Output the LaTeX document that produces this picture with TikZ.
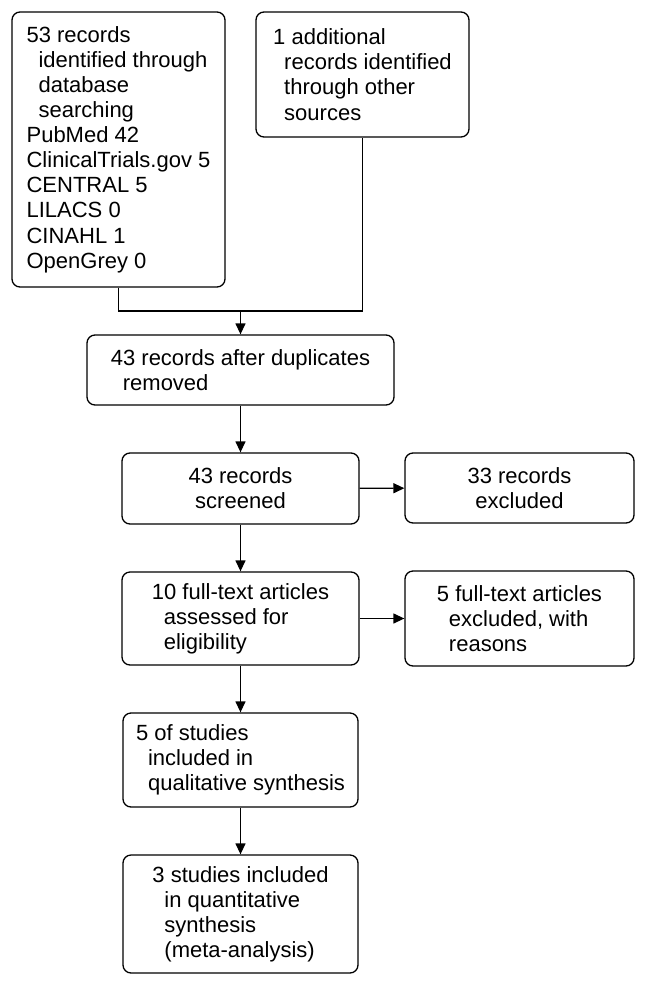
\documentclass[tikz,border=0pt]{standalone}
\usepackage{fontspec}
\setmainfont{Liberation Sans}
\usetikzlibrary{arrows.meta}

\begin{document}
\begin{tikzpicture}[
  x=1pt, y=-1pt,
  font=\fontsize{22}{25.1}\selectfont,
  stage/.style={draw, line width=1.3pt, rounded corners=8pt, align=left, inner sep=0pt},
  flow/.style={line width=1.3pt, -{Triangle[length=11pt, width=10pt]}}]
    \useasboundingbox (0,0) rectangle (647,986);
    % Identification: database search and other sources
    \node[stage, minimum width=213pt, minimum height=275pt] (database) at (118.5,149.5)
      {53 records\\\hspace*{12pt}identified through\\\hspace*{12pt}database\\\hspace*{12pt}searching\\
       PubMed 42\\ClinicalTrials.gov 5\\CENTRAL 5\\LILACS 0\\CINAHL 1\\OpenGrey 0};
    \node[stage, minimum width=213pt, minimum height=125pt] (other) at (362.5,74.5)
      {1 additional\\\hspace*{11pt}records identified\\\hspace*{11pt}through other\\\hspace*{11pt}sources};
    % Both sources meet before duplicates are removed
    \coordinate (join) at (240.5,311);
    \node[stage, minimum width=307pt, minimum height=70pt] (dedup) at (240.5,370)
      {43 records after duplicates\\\hspace*{12pt}removed};
    % Screening
    \node[stage, align=center, minimum width=237pt, minimum height=71pt] (screened) at (240.5,488.5)
      {43 records\\screened};
    \node[stage, align=center, minimum width=229pt, minimum height=70pt] (excluded) at (519.5,488)
      {33 records\\excluded};
    % Eligibility
    \node[stage, minimum width=237pt, minimum height=93pt] (fulltext) at (240.5,618.5)
      {10 full-text articles\\\hspace*{12pt}assessed for\\\hspace*{12pt}eligibility};
    \node[stage, minimum width=229pt, minimum height=95pt] (ftexcluded) at (519.5,618.5)
      {5 full-text articles\\\hspace*{12pt}excluded, with\\\hspace*{12pt}reasons};
    % Included
    \node[stage, minimum width=235pt, minimum height=94pt] (qualitative) at (240.5,760)
      {5 of studies\\\hspace*{12pt}included in\\\hspace*{12pt}qualitative synthesis};
    \node[stage, minimum width=235pt, minimum height=118pt] (quantitative) at (240.5,914)
      {3 studies included\\\hspace*{12pt}in quantitative\\\hspace*{12pt}synthesis\\\hspace*{12pt}(meta-analysis)};
    % Connectors
    \draw[line width=1.3pt] (database.south) |- (join) -| (other.south);
    \draw[flow] (join) -- (dedup.north);
    \draw[flow] (dedup) -- (screened);
    \draw[flow] (screened) -- (excluded);
    \draw[flow] (screened) -- (fulltext);
    \draw[flow] (fulltext) -- (ftexcluded);
    \draw[flow] (fulltext) -- (qualitative);
    \draw[flow] (qualitative) -- (quantitative);
\end{tikzpicture}
\end{document}
